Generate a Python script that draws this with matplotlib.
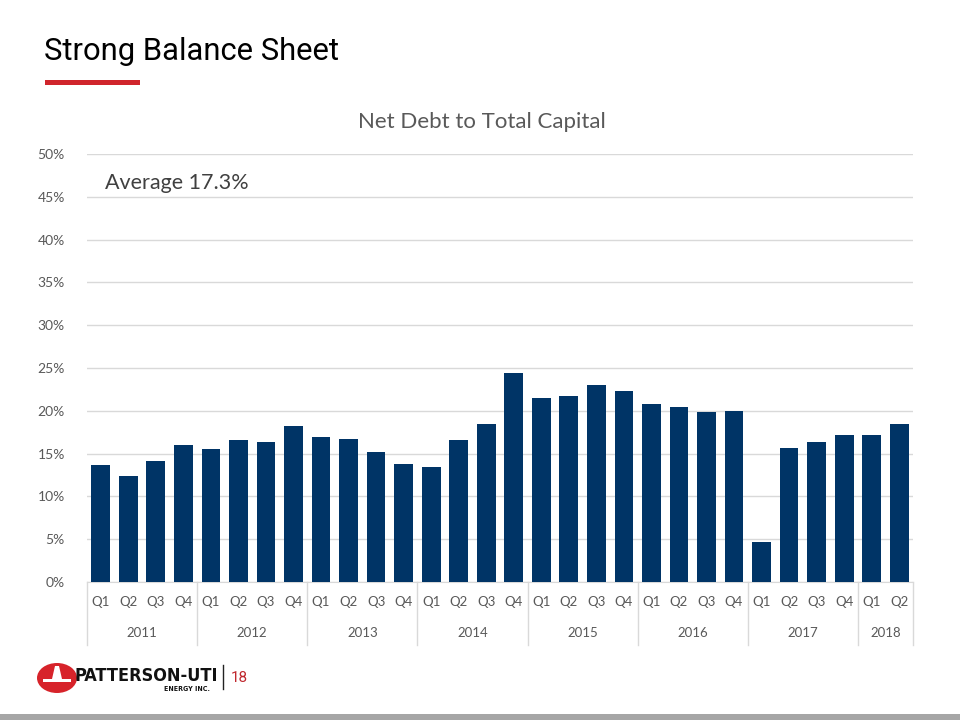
import matplotlib
matplotlib.use("Agg")
import matplotlib.pyplot as plt
from matplotlib.patches import Circle, Polygon, Rectangle
import matplotlib.transforms as mtransforms

years = ["2011", "2012", "2013", "2014", "2015", "2016", "2017", "2018"]
quarters_per_year = [4, 4, 4, 4, 4, 4, 4, 2]
quarter_labels = ["Q1", "Q2", "Q3", "Q4"] * 7 + ["Q1", "Q2"]
values = [13.7, 12.4, 14.1, 16.0,
          15.5, 16.6, 16.4, 18.2,
          16.9, 16.7, 15.2, 13.8,
          13.4, 16.6, 18.5, 24.4,
          21.5, 21.7, 23.0, 22.3,
          20.8, 20.4, 19.9, 20.0,
          4.7, 15.7, 16.4, 17.2,
          17.2, 18.5]
y_ticks = [0, 5, 10, 15, 20, 25, 30, 35, 40, 45, 50]

BODY = ["Lato", "DejaVu Sans"]
TITLE = ["Roboto", "DejaVu Sans"]

fig = plt.figure(figsize=(9.6, 7.2), dpi=100)
W, H = 960, 720

def fx(px):
    return px / W

def fy(py):
    return 1 - py / H

ax = fig.add_axes([fx(87), fy(582), fx(913) - fx(87), fy(154) - fy(582)])
x = list(range(len(values)))
ax.bar(x, values, width=0.68, color="#003466", zorder=3)
ax.set_xlim(-0.5, len(values) - 0.5)
ax.set_ylim(0, 50)
ax.set_yticks(y_ticks)
ax.set_yticklabels([f"{t}%" for t in y_ticks], fontsize=10, color="#595959", family=BODY)
ax.yaxis.grid(True, color="#D9D9D9", linewidth=1, zorder=0)
ax.set_axisbelow(True)
for s in ["top", "right", "left"]:
    ax.spines[s].set_visible(False)
ax.spines["bottom"].set_color("#D9D9D9")
ax.tick_params(axis="both", length=0)
ax.tick_params(axis="y", pad=16)
ax.set_xticks(x)
ax.set_xticklabels(quarter_labels, fontsize=9.5, color="#595959", family=BODY)
ax.tick_params(axis="x", pad=10)

trans = mtransforms.blended_transform_factory(ax.transData, ax.transAxes)
start = -0.5
ax.plot([start, start], [0, -0.147], transform=trans, color="#D9D9D9", lw=1, clip_on=False)
for yr, n in zip(years, quarters_per_year):
    end = start + n
    ax.plot([end, end], [0, -0.147], transform=trans, color="#D9D9D9", lw=1, clip_on=False)
    ax.text((start + end) / 2, -0.119, yr, transform=trans, ha="center", va="center",
            fontsize=9.5, color="#595959", family=BODY)
    start = end

ax.text(0.022, 0.932, "Average 17.3%", transform=ax.transAxes, fontsize=15.5,
        color="#404040", family=BODY, ha="left", va="center")

fig.text(fx(482), fy(122), "Net Debt to Total Capital", ha="center", va="center",
         fontsize=16, color="#595959", family=BODY)

# Slide title
fig.text(fx(44), fy(51), "Strong Balance Sheet", ha="left", va="center",
         fontsize=22.3, color="#000000", family=TITLE)
fig.add_artist(Rectangle((fx(45), fy(85)), fx(140) - fx(45), fy(80) - fy(85),
                         transform=fig.transFigure, color="#D0252C", lw=0))

# Footer
fig.add_artist(Rectangle((0, 0), 1, 6 / H, transform=fig.transFigure,
                         color="#A6A6A6", lw=0))
cx, cy, r = 57, 678, 15
fig.add_artist(Circle((fx(cx), fy(cy)), r / H, transform=fig.transFigure,
                      color="#D7232A", lw=0))
derrick = [(cx - 2, cy - 12), (cx + 2, cy - 12), (cx + 5, cy + 1), (cx + 14, cy + 1),
           (cx + 14, cy + 4), (cx - 14, cy + 4), (cx - 14, cy + 1), (cx - 5, cy + 1)]
fig.add_artist(Polygon([(fx(a), fy(b)) for a, b in derrick], closed=True,
                       transform=fig.transFigure, color="white", lw=0))
fig.text(fx(74), fy(676), "PATTERSON-UTI", ha="left", va="center", fontsize=13.0,
         fontweight="bold", fontstretch="condensed", color="#111111",
         family=["DejaVu Sans"])
fig.text(fx(210), fy(689), "ENERGY INC.", ha="right", va="center", fontsize=5,
         fontweight="bold", fontstretch="condensed", color="#111111",
         family=["DejaVu Sans"])
fig.add_artist(plt.Line2D([fx(223), fx(223)], [fy(665), fy(689)],
                          transform=fig.transFigure, color="#222222", lw=1))
fig.text(fx(231), fy(678), "18", ha="left", va="center", fontsize=11,
         color="#C0282E", family=TITLE)

fig.savefig("out.png", dpi=100)
